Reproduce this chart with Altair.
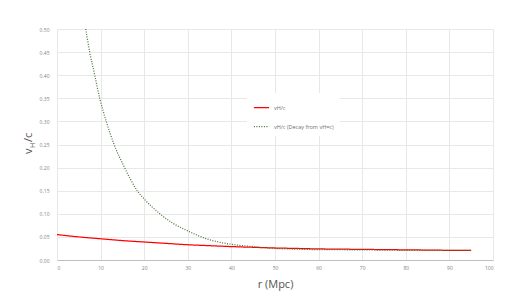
import altair as alt
import pandas as pd

# Red series: v_H/c
r_red = [0, 5, 10, 15, 20, 25, 30, 35, 40, 45, 50, 55, 60, 65, 70, 75, 80, 85, 90, 95]
v_red = [0.055, 0.050, 0.046, 0.042, 0.039, 0.036, 0.033, 0.031, 0.029, 0.0275, 0.026,
         0.025, 0.024, 0.0235, 0.023, 0.0225, 0.022, 0.0215, 0.021, 0.021]

# Green dotted series: v_H/c (Decay from v_H=c)
r_grn = [6.6, 7.5, 8.65, 9.8, 11.3, 13.1, 15.5, 17.0, 18.4, 20.0, 21.8, 23.6, 26.5, 30.0,
         34.6, 37.0, 40.0, 45.0, 50.0, 55.0, 60.0, 70.0, 80.0, 90.0, 95.0]
v_grn = [0.50, 0.45, 0.40, 0.35, 0.30, 0.25, 0.20, 0.172, 0.15, 0.132, 0.115, 0.10, 0.080,
         0.063, 0.045, 0.039, 0.034, 0.029, 0.025, 0.0235, 0.0225, 0.022, 0.021, 0.021, 0.021]

name_red = "vH/c"
name_grn = "vH/c (Decay from vH=c)"

df = pd.concat([
    pd.DataFrame({"r": r_red, "v": v_red, "series": name_red, "order": range(len(r_red))}),
    pd.DataFrame({"r": r_grn, "v": v_grn, "series": name_grn, "order": range(len(r_grn))}),
])

FONT = "Open Sans"

lines = alt.Chart(df).mark_line(strokeWidth=1.25, interpolate="monotone").encode(
    x=alt.X("r:Q", scale=alt.Scale(domain=[0, 100], nice=False),
            axis=alt.Axis(values=list(range(0, 101, 10)), title="r (Mpc)", format="d",
                          labelFontSize=5, labelColor="#7f7f7f", labelFont=FONT,
                          titleFontSize=11, titleColor="#555555", titleFont=FONT,
                          titleFontWeight="normal", titlePadding=8,
                          ticks=False, domainColor="#bfbfbf", gridColor="#e8e8e8",
                          labelPadding=5)),
    y=alt.Y("v:Q", scale=alt.Scale(domain=[0, 0.5], nice=False),
            axis=alt.Axis(values=[i * 0.05 for i in range(11)], title=None, format=".2f",
                          labelFontSize=5, labelColor="#7f7f7f", labelFont=FONT,
                          ticks=False, domain=False, gridColor="#e8e8e8", labelPadding=8)),
    color=alt.Color("series:N", scale=alt.Scale(domain=[name_red, name_grn],
                                                range=["#ff0000", "#48723a"]),
                    legend=alt.Legend(title=None, orient="none", legendX=190, legendY=64,
                                      fillColor="white", padding=6, rowPadding=7,
                                      symbolType="stroke", symbolSize=230,
                                      symbolStrokeWidth=1.25,
                                      labelFontSize=5.5, labelColor="#707070",
                                      labelFont=FONT)),
    strokeDash=alt.StrokeDash("series:N", scale=alt.Scale(domain=[name_red, name_grn],
                                                          range=[[1, 0], [1, 1.5]]),
                              legend=None),
    order="order:Q",
)

ytitle_parts = [
    ("v", 11, -25, 125),
    ("H", 7, -22.5, 119),
    ("/c", 11, -25, 113),
]
ytitle_layers = []
for txt, size, xp, yp in ytitle_parts:
    ytitle_layers.append(
        alt.Chart(pd.DataFrame({"t": [txt]})).mark_text(
            angle=270, align="left", baseline="alphabetic", fontSize=size,
            font=FONT, color="#555555"
        ).encode(text="t:N", x=alt.value(xp), y=alt.value(yp))
    )

chart = alt.layer(lines, *ytitle_layers).properties(
    width=436, height=231,
    autosize=alt.AutoSizeParams(type="none"),
    padding={"left": 57, "top": 29, "right": 26, "bottom": 43},
).configure_view(stroke=None)

chart.save("out.html", embed_options={"renderer": "svg", "actions": False})
